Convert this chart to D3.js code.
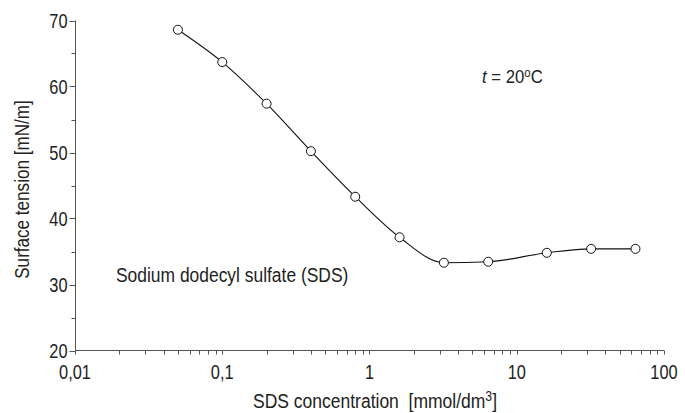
<!DOCTYPE html>
<html>
<head>
<meta charset="utf-8">
<script src="https://cdnjs.cloudflare.com/ajax/libs/d3/7.8.5/d3.min.js"></script>
<style>
  body { margin: 0; background: #fff; }
  svg text { font-family: "Liberation Sans", Arial, sans-serif; fill: #222; }
</style>
</head>
<body>
<svg width="685" height="413"></svg>
<script>
// concentration [mmol/dm3] and surface tension [mN/m]
var concentration = [0.05, 0.1, 0.2, 0.4, 0.8, 1.6, 3.2, 6.4, 16, 32, 64];
var tension = [68.6, 63.7, 57.4, 50.2, 43.3, 37.15, 33.3, 33.45, 34.8, 35.4, 35.4];
var xTicks = [0.01, 0.1, 1, 10, 100];
var xTickLabels = ["0,01", "0,1", "1", "10", "100"];
var yTicks = [20, 30, 40, 50, 60, 70];

var svg = d3.select("svg");

var x = d3.scaleLog().domain([0.01, 100]).range([75, 664]);
var y = d3.scaleLinear().domain([20, 70]).range([350.5, 20.5]);

// condensed-looking text: normal font squeezed horizontally
function label(parent, px, py, size, sx, anchor) {
  return parent.append("text")
    .attr("transform", "translate(" + px + "," + py + ") scale(" + sx + ",1)")
    .attr("font-size", size)
    .attr("text-anchor", anchor || "start");
}

// minor ticks on x
var minorX = [];
[0.01, 0.1, 1, 10].forEach(function(d) {
  for (var k = 2; k <= 9; k++) minorX.push(d * k);
});

var axisColor = "#555";

var gx = svg.append("g").attr("transform", "translate(0,350.5)");
gx.append("line").attr("x1", 75).attr("x2", 664).attr("stroke", axisColor);
gx.selectAll("line.minor").data(minorX.concat(xTicks)).enter().append("line")
  .attr("class", "minor")
  .attr("x1", function(d) { return Math.round(x(d)) + 0.5; })
  .attr("x2", function(d) { return Math.round(x(d)) + 0.5; })
  .attr("y1", 0).attr("y2", 4)
  .attr("stroke", axisColor);
xTicks.forEach(function(d, i) {
  label(gx, x(d), 28, 20, 0.82, "middle").text(xTickLabels[i]);
});

var gy = svg.append("g").attr("transform", "translate(75.5,0)");
gy.append("line").attr("y1", 20.5).attr("y2", 350.5).attr("stroke", axisColor);
gy.selectAll("line.t").data(d3.range(20, 71, 5)).enter().append("line")
  .attr("class", "t")
  .attr("y1", function(d) { return Math.round(y(d)) + 0.5; })
  .attr("y2", function(d) { return Math.round(y(d)) + 0.5; })
  .attr("x1", function(d) { return d % 10 === 0 ? -6 : -4; }).attr("x2", 0)
  .attr("stroke", axisColor);
yTicks.forEach(function(d) {
  label(gy, -8, y(d) + 7, 20, 0.82, "end").text(d);
});

// axis titles
var xt = label(svg, 375, 408, 20, 0.875, "middle");
xt.append("tspan").text("SDS concentration \u00a0[mmol/dm");
xt.append("tspan").attr("dy", -7).attr("font-size", 14).text("3");
xt.append("tspan").attr("dy", 7).text("]");

svg.append("text")
  .attr("transform", "translate(29,189.5) rotate(-90) scale(0.855,1)")
  .attr("text-anchor", "middle")
  .attr("font-size", 20)
  .text("Surface tension [mN/m]");

// annotations
var tt = label(svg, 482, 83, 19, 0.88);
tt.append("tspan").attr("font-style", "italic").text("t");
tt.append("tspan").text(" = 20");
tt.append("tspan").attr("dy", -6).attr("font-size", 13).text("o");
tt.append("tspan").attr("dy", 6).text("C");

label(svg, 116, 282, 21, 0.83).text("Sodium dodecyl sulfate (SDS)");

// curve and markers
var pts = concentration.map(function(c, i) { return [x(c), y(tension[i])]; });
svg.append("path")
  .datum(pts)
  .attr("fill", "none")
  .attr("stroke", "#111")
  .attr("stroke-width", 1.1)
  .attr("d", d3.line().curve(d3.curveMonotoneX));

svg.selectAll("circle").data(pts).enter().append("circle")
  .attr("cx", function(d) { return d[0]; })
  .attr("cy", function(d) { return d[1]; })
  .attr("r", 4.5)
  .attr("fill", "#fff")
  .attr("stroke", "#111")
  .attr("stroke-width", 1);
</script>
</body>
</html>
